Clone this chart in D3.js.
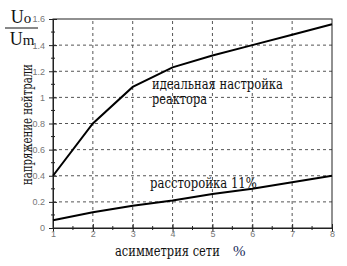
<!DOCTYPE html>
<html><head><meta charset="utf-8">
<script src="https://cdn.jsdelivr.net/npm/d3@7"></script>
<style>body{margin:0;background:#fff}svg{display:block}
.serif{font-family:"DejaVu Serif","Liberation Serif","Noto Serif","FreeSerif","Tinos","Times New Roman",serif}
.serif2{font-family:"Liberation Serif","Times New Roman",serif}
.sans{font-family:"Liberation Sans",Arial,sans-serif}</style>
</head><body>
<script>
const xValues = [1, 2, 3, 4, 5, 6, 7, 8];
const idealValues = [0.40, 0.80, 1.08, 1.23, 1.32, 1.40, 1.48, 1.56];
const detuneValues = [0.06, 0.12, 0.17, 0.21, 0.26, 0.30, 0.35, 0.40];
const yTicks = [0, 0.2, 0.4, 0.6, 0.8, 1, 1.2, 1.4, 1.6];
const xTicks = [1, 2, 3, 4, 5, 6, 7, 8];

const W = 347, H = 266;
const svg = d3.select("body").append("svg").attr("width", W).attr("height", H);
const x = d3.scaleLinear().domain([1, 8]).range([53, 332]);
const y = d3.scaleLinear().domain([0, 1.6]).range([228, 19]);

// grid
const g = svg.append("g");
g.selectAll(".vg").data(xTicks.slice(1, -1)).join("line")
  .attr("x1", d => x(d)).attr("x2", d => x(d)).attr("y1", y(0)).attr("y2", y(1.6))
  .attr("stroke", "#555").attr("stroke-width", 1).attr("stroke-dasharray", "3,3");
g.selectAll(".hg").data(yTicks.slice(1, -1)).join("line")
  .attr("x1", x(1)).attr("x2", x(8)).attr("y1", d => y(d)).attr("y2", d => y(d))
  .attr("stroke", "#555").attr("stroke-width", 1).attr("stroke-dasharray", "3,3");

// frame
svg.append("rect").attr("x", x(1)).attr("y", y(1.6)).attr("width", x(8) - x(1)).attr("height", y(0) - y(1.6))
  .attr("fill", "none").attr("stroke", "#222").attr("stroke-width", 1);

// axes
const yAxis = d3.axisLeft(y).tickValues(yTicks).tickSize(4).tickFormat(d => d === 0 ? "0" : d3.format("")(d));
const ya = svg.append("g").attr("transform", `translate(${x(1)},0)`).call(yAxis);
ya.attr("font-family", null).attr("class", "sans");
ya.select(".domain").attr("stroke", "#222");
ya.selectAll(".tick line").attr("stroke", "#222").attr("x2", 4).attr("x1", -4);
ya.selectAll("text").attr("font-size", 9).attr("fill", "#777").attr("x", -8);
const yMinor = d3.range(0.1, 1.6, 0.2);
svg.append("g").selectAll("line").data(yMinor).join("line")
  .attr("x1", x(1) - 2).attr("x2", x(1) + 2).attr("y1", d => y(d)).attr("y2", d => y(d)).attr("stroke", "#222");

const xAxis = d3.axisBottom(x).tickValues(xTicks).tickSize(4).tickFormat(d3.format("d"));
const xa = svg.append("g").attr("transform", `translate(0,${y(0)})`).call(xAxis);
xa.attr("font-family", null).attr("class", "sans");
xa.select(".domain").attr("stroke", "#222");
xa.selectAll(".tick line").attr("stroke", "#222").attr("y1", -4).attr("y2", 4);
xa.selectAll("text").attr("font-size", 9).attr("fill", "#777").attr("y", 3);
const xMinor = d3.range(1.5, 8, 1);
svg.append("g").selectAll("line").data(xMinor).join("line")
  .attr("x1", d => x(d)).attr("x2", d => x(d)).attr("y1", y(0) - 2).attr("y2", y(0) + 2).attr("stroke", "#222");

// lines
const line = d3.line().x((d, i) => x(xValues[i])).y(d => y(d));
svg.append("path").datum(idealValues).attr("d", line).attr("fill", "none").attr("stroke", "#000").attr("stroke-width", 2);
svg.append("path").datum(detuneValues).attr("d", line).attr("fill", "none").attr("stroke", "#000").attr("stroke-width", 2);

// fitted serif text: scaled horizontally to a target width
function fit(tx, ty, rot, s, width, size) {
  const t = svg.append("text").attr("class", "serif").attr("font-size", size).attr("fill", "#111").text(s);
  const len = t.node().getComputedTextLength();
  const k = width / len;
  t.attr("transform", `translate(${tx},${ty})${rot ? " rotate(-90)" : ""} scale(${k},1)`);
  return t;
}
fit(152, 89, false, "идеальная настройка", 131, 14);
fit(152, 104, false, "реактора", 55, 14);
fit(150, 188, false, "рассторойка 11%", 107, 14);

// axis titles
fit(115, 256, false, "асимметрия сети", 105, 14);
svg.append("text").attr("class", "serif2").attr("x", 233).attr("y", 256)
  .attr("font-size", 15).attr("fill", "#1a2a5a").text("%");
fit(32, 185, true, "напряжение нейтрали", 121, 14);

// fraction Uo/Um
const f = svg.append("g").attr("class", "serif2").attr("fill", "#111");
const t1 = f.append("text").attr("x", 21).attr("y", 23).attr("text-anchor", "middle").attr("font-size", 18);
t1.append("tspan").text("U");
t1.append("tspan").attr("font-size", 15).text("o");
const t2 = f.append("text").attr("x", 22).attr("y", 45).attr("text-anchor", "middle").attr("font-size", 18);
t2.append("tspan").text("U");
t2.append("tspan").attr("font-size", 15).text("m");
f.append("line").attr("x1", 5).attr("x2", 38).attr("y1", 28).attr("y2", 28).attr("stroke", "#111").attr("stroke-width", 1);
</script>
</body></html>
